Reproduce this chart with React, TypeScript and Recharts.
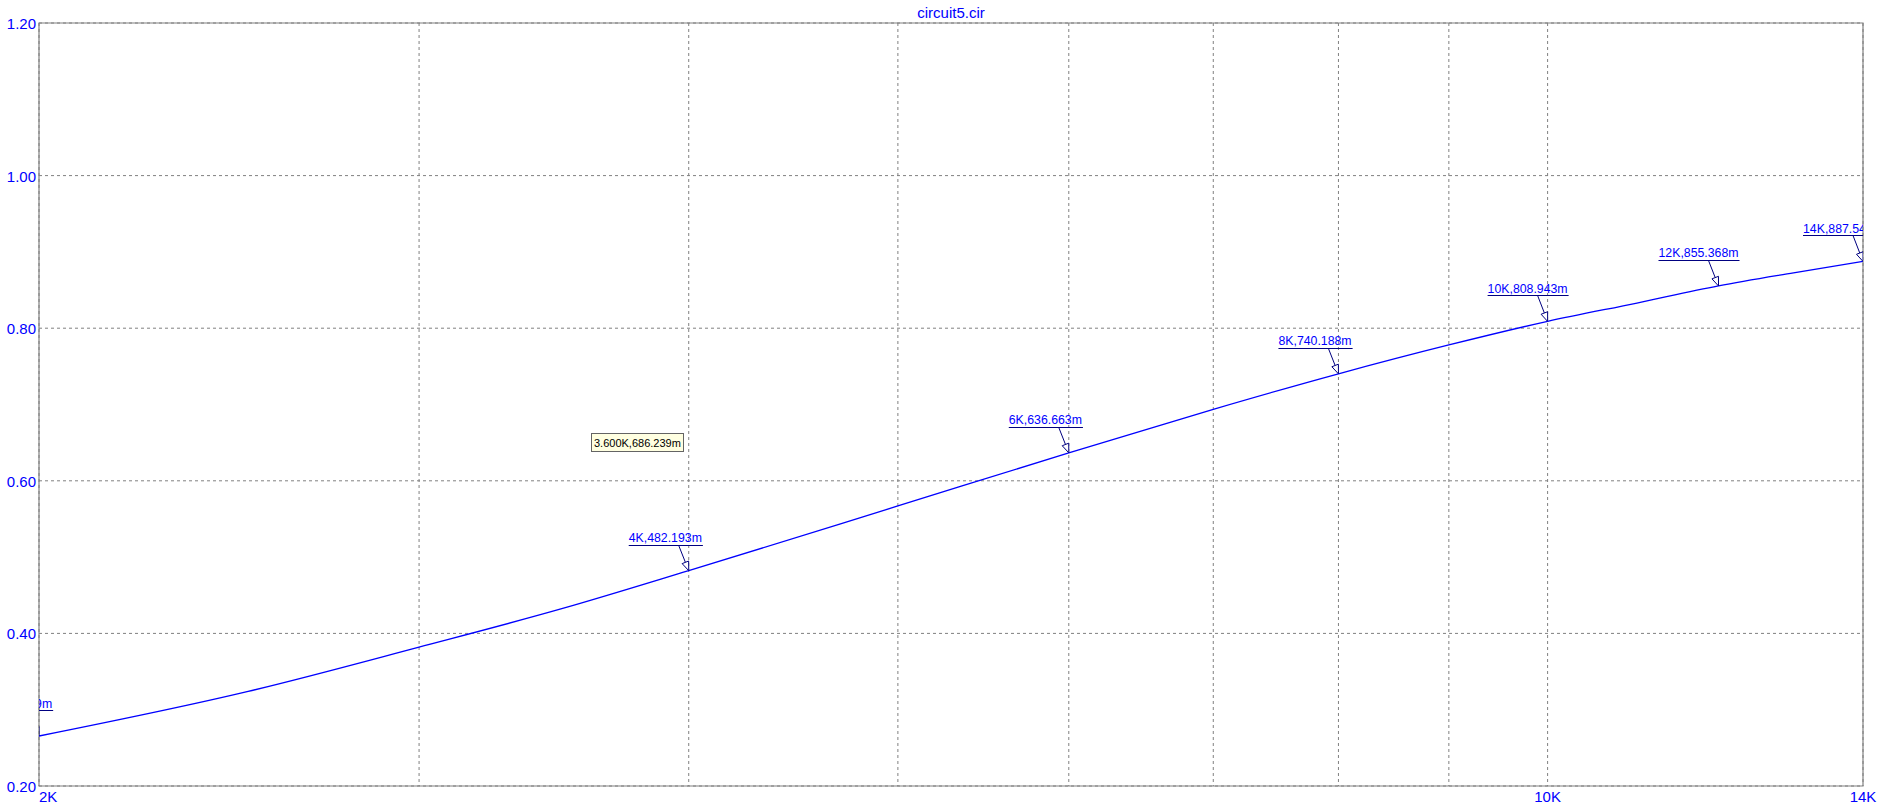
import React from "react"
import {
  CartesianGrid,
  Line,
  LineChart,
  ReferenceArea,
  ReferenceDot,
  XAxis,
  YAxis,
} from "recharts"

// sweep data (Hz, V)
const frequencies = [2000, 2500, 3000, 3500, 4000, 5000, 6000, 7000, 8000, 9000, 10000, 11000, 12000, 13000, 14000]
const gain = [0.265519, 0.324, 0.382, 0.433, 0.482193, 0.567, 0.636663, 0.6937, 0.740188, 0.778, 0.808943, 0.833, 0.855368, 0.8725, 0.88754]

// probe markers placed on the curve
const markerFreqs = [2000, 4000, 6000, 8000, 10000, 12000, 14000]
const markerLabels = ["2K,265.519m", "4K,482.193m", "6K,636.663m", "8K,740.188m", "10K,808.943m", "12K,855.368m", "14K,887.540m"]

// cursor readout box
const cursorFreq = 3600
const cursorValue = 0.686239
const cursorLabel = "3.600K,686.239m"

const xTicks = [2000, 3000, 4000, 5000, 6000, 7000, 8000, 9000, 10000, 14000]
const xTickLabels: Record<number, string> = { 2000: "2K", 10000: "10K", 14000: "14K" }
const yTicks = [0.2, 0.4, 0.6, 0.8, 1.0, 1.2]

const title = "circuit5.cir"

const W = 1893
const H = 808
const MARGIN = { top: 23, right: 30, bottom: 0, left: 0 }
const Y_AXIS_W = 39
const X_AXIS_H = 22
const FONT = "'Liberation Sans', Arial, sans-serif"
const BLUE = "#0000ff"
const NAVY = "#000080"
const GRID = "#808080"
const CLIP_ID = "plot-area-clip"

const data = frequencies.map((f, i) => ({ f, v: gain[i] }))

// rough Arial advance widths (em)
const charW: Record<string, number> = { K: 0.667, ",": 0.278, ".": 0.278, m: 0.833 }
const textWidth = (s: string, size: number) =>
  s.split("").reduce((acc, c) => acc + (charW[c] ?? 0.556), 0) * size

const MarkerShape = (props: any) => {
  const { cx, cy, label } = props
  if (cx == null || cy == null) return null
  const fs = 12.3
  const sx = cx - 60
  const uy = Math.round(cy - 26) + 0.5
  const w = textWidth(label, fs) + 1
  const ax = cx - 10
  const dx = cx - ax
  const dy = cy - uy
  const len = Math.hypot(dx, dy)
  const ux = dx / len
  const uy2 = dy / len
  const bx = cx - ux * 9
  const by = cy - uy2 * 9
  const px = -uy2 * 3.5
  const py = ux * 3.5
  return (
    <g clipPath={`url(#${CLIP_ID})`}>
      <text x={sx} y={cy - 28.5} fill={BLUE} fontSize={fs} fontFamily={FONT}>
        {label}
      </text>
      <line x1={sx} y1={uy} x2={sx + w} y2={uy} stroke={NAVY} strokeWidth={1.2} />
      <line x1={ax} y1={uy} x2={bx} y2={by} stroke={NAVY} strokeWidth={1} />
      <polygon
        points={`${cx},${cy} ${bx + px},${by + py} ${bx - px},${by - py}`}
        fill="#ffffff"
        stroke={NAVY}
        strokeWidth={1}
      />
    </g>
  )
}

const CursorShape = (props: any) => {
  const { cx, cy } = props
  if (cx == null || cy == null) return null
  const bx = Math.round(cx + 1) + 0.5
  const by = Math.round(cy + 18) + 0.5
  return (
    <g>
      <rect x={bx} y={by} width={92} height={18} fill="#ffffe1" stroke="#646464" />
      <text x={bx + 2.5} y={by + 13} fontSize={11} fill="#000000" fontFamily={FONT}>
        {cursorLabel}
      </text>
    </g>
  )
}

const XTick = (props: any) => {
  const { x, y, payload } = props
  const label = xTickLabels[payload.value]
  if (!label) return null
  const anchor = payload.value === frequencies[0] ? "start" : "middle"
  return (
    <text x={x} y={y + 16} textAnchor={anchor} fill={BLUE} fontSize={15} fontFamily={FONT}>
      {label}
    </text>
  )
}

const YTick = (props: any) => {
  const { x, y, payload } = props
  return (
    <text x={x - 3} y={y + 6} textAnchor="end" fill={BLUE} fontSize={15} fontFamily={FONT}>
      {Number(payload.value).toFixed(2)}
    </text>
  )
}

export default function App() {
  const plotX = MARGIN.left + Y_AXIS_W
  const plotY = MARGIN.top
  const plotW = W - plotX - MARGIN.right
  const plotH = H - MARGIN.top - MARGIN.bottom - X_AXIS_H
  return (
    <div style={{ position: "absolute", left: 0, top: 0, width: W, height: H, background: "#fff" }}>
      {/* clip region shared with the marker annotations */}
      <svg width={0} height={0} style={{ position: "absolute" }}>
        <defs>
          <clipPath id={CLIP_ID} clipPathUnits="userSpaceOnUse">
            <rect x={plotX} y={plotY} width={plotW} height={plotH} />
          </clipPath>
        </defs>
      </svg>
      <LineChart width={W} height={H} data={data} margin={MARGIN}>
        <CartesianGrid stroke={GRID} strokeDasharray="3 3" />
        <XAxis
          dataKey="f"
          type="number"
          scale="log"
          domain={[2000, 14000]}
          ticks={xTicks}
          interval={0}
          allowDataOverflow
          height={X_AXIS_H}
          tickSize={0}
          tickMargin={0}
          axisLine={false}
          tickLine={false}
          tick={<XTick />}
        />
        <YAxis
          type="number"
          domain={[0.2, 1.2]}
          ticks={yTicks}
          interval={0}
          allowDataOverflow
          width={Y_AXIS_W}
          tickSize={0}
          tickMargin={0}
          axisLine={false}
          tickLine={false}
          tick={<YTick />}
        />
        <ReferenceArea
          x1={2000}
          x2={14000}
          y1={0.2}
          y2={1.2}
          fill="none"
          fillOpacity={0}
          stroke={GRID}
          strokeWidth={1.2}
          ifOverflow="visible"
        />
        <Line
          dataKey="v"
          type="monotone"
          stroke={BLUE}
          strokeWidth={1.3}
          dot={false}
          isAnimationActive={false}
        />
        {markerFreqs.map((f, i) => (
          <ReferenceDot
            key={f}
            x={f}
            y={gain[frequencies.indexOf(f)]}
            ifOverflow="visible"
            shape={(p: any) => <MarkerShape {...p} label={markerLabels[i]} />}
          />
        ))}
        <ReferenceDot x={cursorFreq} y={cursorValue} ifOverflow="visible" shape={(p: any) => <CursorShape {...p} />} />
      </LineChart>
      <svg
        width={W}
        height={H}
        style={{ position: "absolute", left: 0, top: 0, pointerEvents: "none" }}
      >
        <text x={plotX + plotW / 2} y={18} textAnchor="middle" fill={BLUE} fontSize={15} fontFamily={FONT}>
          {title}
        </text>
      </svg>
    </div>
  )
}
